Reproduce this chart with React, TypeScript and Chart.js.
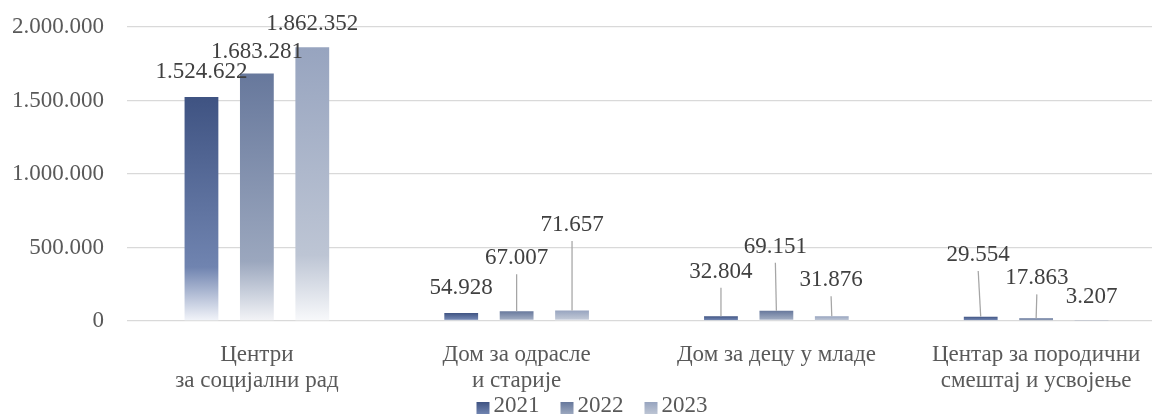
import React, { useEffect, useRef } from 'react';
import { Chart, registerables } from 'chart.js';

Chart.register(...registerables);

// ---- data ----
const categories: string[][] = [
  ['Центри', 'за социјални рад'],
  ['Дом за одрасле', 'и старије'],
  ['Дом за децу у младе'],
  ['Центар за породични', 'смештај и усвојење'],
];
const years = ['2021', '2022', '2023'];
const values2021 = [1524622, 54928, 32804, 29554];
const values2022 = [1683281, 67007, 69151, 17863];
const values2023 = [1862352, 71657, 31876, 3207];
const yTicks = [0, 500000, 1000000, 1500000, 2000000];

// ---- styles ----
const FONT = '"Liberation Serif", "Times New Roman", serif';
const seriesGradients = [
  ['#3f5382', '#7084b0', '#f3f5fa'],
  ['#67789c', '#9ba7be', '#f3f4f7'],
  ['#97a4bf', '#bdc5d4', '#f8f9fb'],
];
// label offsets (px) relative to bar top centre: [dx, dy]
const labelOffsets = [
  [[0, -25], [0, -25], [0, -44.5], [-2.5, -61.7]],
  [[0, -22], [0, -53], [-1, -64], [0.7, -40]],
  [[0, -23], [0, -85.5], [-0.7, -36], [0, -24]],
];

const fmt = (v: number) => String(Math.round(v)).replace(/\B(?=(\d{3})+(?!\d))/g, '.');

const valueLabels = {
  id: 'valueLabels',
  afterDatasetsDraw(chart: any) {
    const ctx = chart.ctx;
    ctx.save();
    ctx.font = `23px ${FONT}`;
    ctx.textAlign = 'center';
    ctx.textBaseline = 'middle';
    chart.data.datasets.forEach((ds: any, di: number) => {
      const meta = chart.getDatasetMeta(di);
      meta.data.forEach((el: any, i: number) => {
        const [dx, dy] = labelOffsets[di][i];
        const lx = el.x + dx;
        const ly = el.y + dy;
        const lineTop = ly + 16;
        if (el.y - lineTop > 12) {
          ctx.strokeStyle = '#a5a5a5';
          ctx.lineWidth = 1.25;
          ctx.beginPath();
          ctx.moveTo(lx, lineTop);
          ctx.lineTo(el.x, el.y);
          ctx.stroke();
        }
        ctx.fillStyle = '#404040';
        ctx.fillText(fmt(ds.data[i]), lx, ly);
      });
    });
    ctx.restore();
  },
};

const customLegend = {
  id: 'customLegend',
  afterDraw(chart: any) {
    const ctx = chart.ctx;
    ctx.save();
    ctx.font = `23px ${FONT}`;
    const box = 13;
    const gapText = 4;
    const gapItem = 21;
    const widths = years.map((y) => ctx.measureText(y).width);
    const total = widths.reduce((a, w) => a + box + gapText + w, 0) + gapItem * (years.length - 1);
    let x = chart.width / 2 - total / 2;
    const cy = chart.height - 11;
    years.forEach((y, i) => {
      const g = ctx.createLinearGradient(0, cy - 4, 0, cy + 8);
      g.addColorStop(0, seriesGradients[i][0]);
      g.addColorStop(1, seriesGradients[i][1]);
      ctx.fillStyle = g;
      ctx.fillRect(x, cy - 4, box, 12);
      ctx.fillStyle = '#595959';
      ctx.textAlign = 'left';
      ctx.textBaseline = 'middle';
      ctx.fillText(y, x + box + gapText, cy);
      x += box + gapText + widths[i] + gapItem;
    });
    ctx.restore();
  },
};

function barGradient(di: number) {
  return (c: any) => {
    const chart = c.chart;
    const stops = seriesGradients[di];
    if (c.type !== 'data' || !chart.chartArea || !chart.scales.y) return stops[1];
    const ys = chart.scales.y;
    const top = ys.getPixelForValue(c.parsed ? c.parsed.y : c.raw);
    const base = ys.getPixelForValue(0);
    if (!isFinite(top) || !isFinite(base) || base - top < 0.5) return stops[0];
    const g = chart.ctx.createLinearGradient(0, top, 0, base);
    g.addColorStop(0, stops[0]);
    g.addColorStop(0.76, stops[1]);
    g.addColorStop(1, stops[2]);
    return g;
  };
}

export default function App() {
  const ref = useRef<HTMLCanvasElement | null>(null);

  useEffect(() => {
    if (!ref.current) return;
    const series = [values2021, values2022, values2023];
    const chart = new Chart(ref.current, {
      type: 'bar',
      data: {
        labels: categories,
        datasets: series.map((vals, di) => ({
          label: years[di],
          data: vals,
          backgroundColor: barGradient(di),
          borderWidth: 0,
          barPercentage: 0.61,
          categoryPercentage: 0.64,
        })),
      },
      options: {
        responsive: false,
        animation: false,
        devicePixelRatio: 1,
        layout: { padding: { left: 12, right: 18, top: 27, bottom: 23 } },
        plugins: {
          legend: { display: false },
          tooltip: { enabled: false },
        },
        scales: {
          x: {
            grid: { display: false, drawTicks: false },
            border: { display: false },
            afterFit: (s: any) => {
              s.height = 73;
            },
            ticks: {
              padding: 21,
              color: '#595959',
              font: { family: FONT, size: 23, lineHeight: 26 / 23 },
              maxRotation: 0,
              autoSkip: false,
            },
          },
          y: {
            min: 0,
            max: 2000000,
            afterBuildTicks: (scale: any) => {
              scale.ticks = yTicks.map((v) => ({ value: v }));
            },
            afterFit: (s: any) => {
              s.width = 115;
              s.paddingTop = 0;
              s.paddingBottom = 0;
            },
            grid: { color: '#d9d9d9', lineWidth: 1.3, drawTicks: false },
            border: { display: false },
            ticks: {
              padding: 23,
              color: '#595959',
              font: { family: FONT, size: 23 },
              callback: (v: any) => fmt(Number(v)),
            },
          },
        },
      },
      plugins: [valueLabels, customLegend],
    });
    return () => chart.destroy();
  }, []);

  return (
    <div style={{ position: 'absolute', left: 0, top: 0, width: 1152, height: 417, overflow: 'hidden', background: '#fff' }}>
      <canvas ref={ref} width={1184} height={417} style={{ width: 1184, height: 417, display: 'block' }} />
    </div>
  );
}
